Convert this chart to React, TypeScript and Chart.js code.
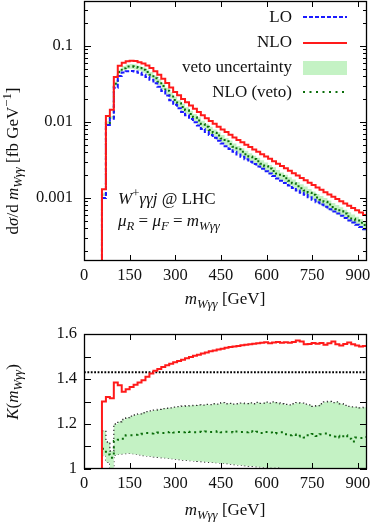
import React, { useEffect, useRef } from "react";
import { Chart, registerables } from "chart.js";
Chart.register(...registerables);

// ---------- data ----------
const BIN_EDGES = [59, 72, 85, 98, 111, 124, 137, 150, 163, 176, 189, 202, 215, 228, 241, 254, 267, 280, 293, 306,
  319, 332, 345, 358, 371, 384, 397, 410, 423, 436, 449, 462, 475, 488, 501, 514, 527, 540, 553, 566,
  579, 592, 605, 618, 631, 644, 657, 670, 683, 696, 709, 722, 735, 748, 761, 774, 787, 800, 813, 826,
  839, 852, 865, 878, 891, 904, 917, 930];

const LO = [0.001, 0.0091, 0.011, 0.0282, 0.0401, 0.0447, 0.0465, 0.0469, 0.046, 0.0442,
  0.0419, 0.0391, 0.036, 0.0324, 0.029, 0.0255, 0.0222, 0.0193, 0.0168, 0.0151,
  0.01353, 0.0122, 0.01095, 0.00991, 0.00895, 0.00806, 0.00738, 0.00674, 0.00618, 0.00566,
  0.0052, 0.00478, 0.0044, 0.00405, 0.00374, 0.00348, 0.00323, 0.003, 0.00279, 0.0026,
  0.00242, 0.00225, 0.0021, 0.00195, 0.0018, 0.00168, 0.00157, 0.00146, 0.00135, 0.00125,
  0.00117, 0.0011, 0.00102, 0.00095, 0.00088, 0.00082, 0.000767, 0.000712, 0.000664, 0.000624,
  0.000584, 0.000544, 0.000506, 0.000475, 0.000444, 0.000415, 0.000386];

const NLO = [0.0013, 0.012, 0.0145, 0.039, 0.055, 0.06, 0.063, 0.064, 0.0633, 0.0612,
  0.0585, 0.0552, 0.0513, 0.0465, 0.0419, 0.037, 0.0325, 0.0284, 0.0248, 0.0224,
  0.0201, 0.0182, 0.0164, 0.0149, 0.0135, 0.0122, 0.0112, 0.01026, 0.00944, 0.00867,
  0.00798, 0.00736, 0.00678, 0.00625, 0.00579, 0.0054, 0.00502, 0.00467, 0.00435, 0.00405,
  0.00377, 0.00352, 0.00327, 0.00304, 0.00282, 0.00263, 0.00245, 0.00228, 0.00211, 0.00197,
  0.00183, 0.00171, 0.00158, 0.00148, 0.00137, 0.00128, 0.00119, 0.00111, 0.00104, 0.00097,
  0.000904, 0.000847, 0.000791, 0.000738, 0.000687, 0.000641, 0.000597];

const NLO_VETO = [0.00109, 0.00969, 0.01155, 0.0317, 0.0453, 0.0507, 0.0535, 0.0539, 0.053, 0.0511,
  0.0485, 0.0454, 0.0417, 0.0376, 0.0337, 0.0296, 0.0258, 0.0225, 0.0195, 0.0176,
  0.01574, 0.01423, 0.01276, 0.01153, 0.01044, 0.00939, 0.00861, 0.00785, 0.00721, 0.00661,
  0.00605, 0.00557, 0.00513, 0.00471, 0.00436, 0.00405, 0.00376, 0.0035, 0.00325, 0.00303,
  0.00281, 0.00262, 0.00244, 0.00226, 0.00209, 0.00195, 0.00181, 0.00168, 0.00156, 0.00143,
  0.00134, 0.00125, 0.00117, 0.0011, 0.00101, 0.000947, 0.000888, 0.000819, 0.00076, 0.000716,
  0.000666, 0.000626, 0.000574, 0.000533, 0.000506, 0.000472, 0.000441];

const K_NLO = [1.3, 1.32, 1.315, 1.385, 1.372, 1.343, 1.355, 1.365, 1.375, 1.385,
  1.395, 1.41, 1.425, 1.437, 1.445, 1.453, 1.461, 1.468, 1.474, 1.48,
  1.486, 1.492, 1.498, 1.503, 1.508, 1.513, 1.518, 1.523, 1.527, 1.531,
  1.535, 1.539, 1.542, 1.545, 1.547, 1.55, 1.552, 1.555, 1.557, 1.559,
  1.561, 1.563, 1.559, 1.562, 1.565, 1.561, 1.563, 1.561, 1.565, 1.571,
  1.567, 1.555, 1.556, 1.56, 1.557, 1.56, 1.552, 1.559, 1.567, 1.554,
  1.549, 1.556, 1.562, 1.555, 1.549, 1.544, 1.547];

const K_VETO = [1.09, 1.065, 1.05, 1.125, 1.13, 1.135, 1.15, 1.15, 1.152, 1.155,
  1.157, 1.16, 1.158, 1.16, 1.162, 1.16, 1.163, 1.165, 1.162, 1.165,
  1.163, 1.166, 1.165, 1.163, 1.166, 1.165, 1.167, 1.164, 1.166, 1.168,
  1.163, 1.166, 1.165, 1.162, 1.167, 1.165, 1.163, 1.168, 1.164, 1.166,
  1.16, 1.165, 1.162, 1.158, 1.16, 1.163, 1.155, 1.15, 1.153, 1.145,
  1.148, 1.14, 1.15, 1.156, 1.147, 1.155, 1.158, 1.15, 1.145, 1.148,
  1.14, 1.15, 1.135, 1.122, 1.14, 1.138, 1.142];

const K_VETO_HI = [1.17, 1.12, 1.08, 1.2, 1.21, 1.22, 1.228, 1.235, 1.24, 1.245,
  1.25, 1.255, 1.258, 1.262, 1.265, 1.268, 1.27, 1.272, 1.275, 1.277,
  1.279, 1.28, 1.282, 1.283, 1.285, 1.284, 1.287, 1.286, 1.29, 1.288,
  1.295, 1.29, 1.292, 1.288, 1.29, 1.293, 1.291, 1.294, 1.29, 1.296,
  1.292, 1.297, 1.293, 1.298, 1.295, 1.29, 1.287, 1.285, 1.29, 1.295,
  1.293, 1.288, 1.285, 1.278, 1.282, 1.29, 1.298, 1.3, 1.295, 1.298,
  1.29, 1.283, 1.278, 1.276, 1.275, 1.272, 1.274];

const K_VETO_LO = [1.06, 1.03, 1.0, 1.062, 1.066, 1.068, 1.07, 1.068, 1.066, 1.063,
  1.06, 1.058, 1.056, 1.054, 1.052, 1.05, 1.048, 1.046, 1.044, 1.042,
  1.04, 1.039, 1.037, 1.036, 1.034, 1.033, 1.031, 1.03, 1.028, 1.027,
  1.026, 1.024, 1.022, 1.02, 1.018, 1.017, 1.015, 1.013, 1.012, 1.01,
  1.008, 1.007, 1.006, 1.006, 1.007, 1.005, 1.004, 1.003, 1.002, 1.0,
  0.998, 0.996, 0.995, 0.993, 0.99, 0.988, 0.986, 0.985, 0.983, 0.98,
  0.978, 0.976, 0.975, 0.973, 0.97, 0.968, 0.966];

const K_TOTAL = 1.43;

const X_TICKS = [0, 150, 300, 450, 600, 750, 900];
const Y_TICKS_TOP = [0.001, 0.01, 0.1];
const Y_TICKS_BOTTOM = [1, 1.1, 1.2, 1.3, 1.4, 1.5, 1.6];
const LEGEND_LABELS = ["LO", "NLO", "veto uncertainty", "NLO (veto)"];

// ---------- styles ----------
const FONT = '"Liberation Serif", "DejaVu Serif", serif';
const TXT = "#111";
const RED = "#ff1a1a";
const BLUE = "#1a1aff";
const GREEN = "#0b6e0b";
const BAND = "rgba(196,242,196,1)";
const X_MIN = 0;
const X_MAX = 930;
const TICK_SIZE = 16.5;
const TEXT_SIZE = 17;

Chart.defaults.font.family = FONT;

type Part = { t: string; it?: boolean; sub?: boolean; sup?: boolean };

function partFont(p: Part, size: number) {
  const s = p.sub || p.sup ? size * 0.75 : size;
  return `${p.it ? "italic " : ""}${s}px ${FONT}`;
}

function drawRich(ctx: CanvasRenderingContext2D, parts: Part[], x: number, y: number, size: number, align: string) {
  ctx.save();
  ctx.textBaseline = "alphabetic";
  ctx.textAlign = "left";
  ctx.fillStyle = TXT;
  let w = 0;
  for (const p of parts) {
    ctx.font = partFont(p, size);
    w += ctx.measureText(p.t).width;
  }
  let cx = align === "center" ? x - w / 2 : align === "right" ? x - w : x;
  for (const p of parts) {
    ctx.font = partFont(p, size);
    const dy = p.sub ? size * 0.22 : p.sup ? -size * 0.4 : 0;
    ctx.fillText(p.t, cx, y + dy);
    cx += ctx.measureText(p.t).width;
  }
  ctx.restore();
}

function hist(vals: number[], lead?: number) {
  const pts: { x: number; y: number }[] = [];
  if (lead !== undefined) pts.push({ x: BIN_EDGES[0], y: lead });
  vals.forEach((v, i) => pts.push({ x: BIN_EDGES[i], y: v }));
  pts.push({ x: BIN_EDGES[vals.length], y: vals[vals.length - 1] });
  return pts;
}

function logMinor(min: number, max: number) {
  const out: number[] = [];
  for (let e = -5; e <= 1; e++) {
    for (let m = 2; m <= 9; m++) {
      const v = m * Math.pow(10, e);
      if (v > min && v < max) out.push(v);
    }
  }
  return out;
}

function drawFrame(chart: any, yMajor: number[], yMinor: number[]) {
  const { ctx, chartArea: a, scales } = chart;
  ctx.save();
  ctx.strokeStyle = "#000";
  ctx.lineWidth = 1;
  ctx.beginPath();
  for (const v of X_TICKS) {
    const px = Math.round(scales.x.getPixelForValue(v)) + 0.5;
    ctx.moveTo(px, a.bottom);
    ctx.lineTo(px, a.bottom - 6);
    ctx.moveTo(px, a.top);
    ctx.lineTo(px, a.top + 6);
  }
  for (const v of yMajor) {
    const py = Math.round(scales.y.getPixelForValue(v)) + 0.5;
    ctx.moveTo(a.left, py);
    ctx.lineTo(a.left + 7, py);
    ctx.moveTo(a.right, py);
    ctx.lineTo(a.right - 7, py);
  }
  for (const v of yMinor) {
    const py = Math.round(scales.y.getPixelForValue(v)) + 0.5;
    ctx.moveTo(a.left, py);
    ctx.lineTo(a.left + 4, py);
    ctx.moveTo(a.right, py);
    ctx.lineTo(a.right - 4, py);
  }
  ctx.stroke();
  ctx.lineWidth = 1.3;
  ctx.strokeRect(a.left + 0.5, a.top + 0.5, a.right - a.left - 1, a.bottom - a.top - 1);
  ctx.restore();
}

const M_W: Part[] = [{ t: "m", it: true }, { t: "Wγγ", it: true, sub: true }];

const topPlugin = {
  id: "topDecor",
  afterDraw(chart: any) {
    const ctx: CanvasRenderingContext2D = chart.ctx;
    drawFrame(chart, Y_TICKS_TOP, logMinor(1.48e-4, 0.39));
    // x title
    drawRich(ctx, [...M_W, { t: " [GeV]" }], 225, 304, TEXT_SIZE, "center");
    // y title
    ctx.save();
    ctx.translate(18, 161);
    ctx.rotate(-Math.PI / 2);
    drawRich(ctx, [{ t: "d" }, { t: "σ", it: true }, { t: "/d " }, ...M_W, { t: " [fb GeV" }, { t: "−1", sup: true }, { t: "]" }], 0, 0, TEXT_SIZE, "center");
    ctx.restore();
    // annotations
    drawRich(ctx, [{ t: "W", it: true }, { t: "+", sup: true }, { t: "γγj", it: true }, { t: " @ LHC" }], 118, 204, TEXT_SIZE, "left");
    drawRich(ctx, [{ t: "μ", it: true }, { t: "R", it: true, sub: true }, { t: " = " }, { t: "μ", it: true }, { t: "F", it: true, sub: true }, { t: " = " }, ...M_W], 118, 226, TEXT_SIZE, "left");
    // legend
    const tx = 292;
    const sx0 = 303;
    const sx1 = 347;
    const rows = [22, 47, 72, 96.5];
    ctx.save();
    ctx.font = `${TEXT_SIZE}px ${FONT}`;
    ctx.fillStyle = TXT;
    ctx.textAlign = "right";
    ctx.textBaseline = "alphabetic";
    LEGEND_LABELS.forEach((l, i) => ctx.fillText(l, tx, rows[i]));
    ctx.lineWidth = 2;
    ctx.strokeStyle = BLUE;
    ctx.setLineDash([4, 2]);
    ctx.beginPath(); ctx.moveTo(sx0, 17); ctx.lineTo(sx1, 17); ctx.stroke();
    ctx.strokeStyle = RED;
    ctx.setLineDash([]);
    ctx.beginPath(); ctx.moveTo(sx0, 43); ctx.lineTo(sx1, 43); ctx.stroke();
    ctx.fillStyle = BAND;
    ctx.fillRect(sx0, 61, sx1 - sx0, 14);
    ctx.strokeStyle = GREEN;
    ctx.setLineDash([2, 4.5]);
    ctx.beginPath(); ctx.moveTo(sx0, 92); ctx.lineTo(sx1, 92); ctx.stroke();
    ctx.restore();
  },
};

const bottomPlugin = {
  id: "bottomDecor",
  afterDraw(chart: any) {
    const ctx: CanvasRenderingContext2D = chart.ctx;
    drawFrame(chart, Y_TICKS_BOTTOM, []);
    drawRich(ctx, [...M_W, { t: " [GeV]" }], 225, 195, TEXT_SIZE, "center");
    ctx.save();
    ctx.translate(18, 72);
    ctx.rotate(-Math.PI / 2);
    drawRich(ctx, [{ t: "K", it: true }, { t: "(" }, ...M_W, { t: ")" }], 0, 0, TEXT_SIZE, "center");
    ctx.restore();
  },
};

const lineBase = { pointRadius: 0, pointHoverRadius: 0, stepped: "before" as const, tension: 0, fill: false as any };

function noPad(s: any) {
  s.paddingTop = 0;
  s.paddingBottom = 0;
  s.paddingLeft = 0;
  s.paddingRight = 0;
}

function xScale(height: number) {
  return {
    type: "linear" as const,
    min: X_MIN,
    max: X_MAX,
    bounds: "data" as const,
    grid: { display: false, drawTicks: false },
    border: { display: false },
    afterBuildTicks: (s: any) => { s.ticks = X_TICKS.map((v) => ({ value: v })); },
    afterFit: (s: any) => { s.height = height; noPad(s); },
    ticks: { font: { family: FONT, size: TICK_SIZE }, color: TXT, padding: 5, maxRotation: 0, autoSkip: false, callback: (v: any) => String(v) },
  };
}

export default function App() {
  const topRef = useRef<HTMLCanvasElement>(null);
  const botRef = useRef<HTMLCanvasElement>(null);

  useEffect(() => {
    const common = {
      responsive: false,
      animation: false as const,
      devicePixelRatio: 1,
      events: [] as any,
      plugins: { legend: { display: false }, tooltip: { enabled: false } },
    };
    const c1 = new Chart(topRef.current!, {
      type: "line",
      data: {
        datasets: [
          { ...lineBase, data: hist(LO.map((v, i) => v * K_VETO_LO[i])), borderColor: "rgba(0,0,0,0)", borderWidth: 1, order: 10 },
          { ...lineBase, data: hist(LO.map((v, i) => v * K_VETO_HI[i])), borderColor: "rgba(0,0,0,0)", borderWidth: 1, fill: "-1", backgroundColor: BAND, order: 9 },
          { ...lineBase, data: hist(NLO_VETO, 1e-6), borderColor: GREEN, borderWidth: 2, borderDash: [2, 3], order: 3 },
          { ...lineBase, data: hist(LO, 1e-6), borderColor: BLUE, borderWidth: 2, borderDash: [4, 2], order: 2 },
          { ...lineBase, data: hist(NLO, 1e-6), borderColor: RED, borderWidth: 2, order: 1 },
        ] as any,
      },
      options: {
        ...common,
        layout: { padding: { top: 1, right: 7, left: 0, bottom: 0 } },
        scales: {
          x: xScale(59),
          y: {
            type: "logarithmic",
            min: 1.48e-4,
            max: 0.39,
            bounds: "data",
            grid: { display: false, drawTicks: false },
            border: { display: false },
            afterBuildTicks: (s: any) => { s.ticks = Y_TICKS_TOP.map((v) => ({ value: v })); },
            afterFit: (s: any) => { s.width = 84; noPad(s); },
            ticks: { font: { family: FONT, size: TICK_SIZE }, color: TXT, padding: 11, callback: (v: any) => String(v) },
          },
        } as any,
      },
      plugins: [topPlugin],
    });

    const c2 = new Chart(botRef.current!, {
      type: "line",
      data: {
        datasets: [
          { ...lineBase, data: hist(K_VETO_LO), borderColor: "#333", borderWidth: 1.3, borderDash: [1.3, 2.7], order: 10 },
          { ...lineBase, data: hist(K_VETO_HI), borderColor: "#333", borderWidth: 1.3, borderDash: [1.3, 2.7], fill: "-1", backgroundColor: BAND, order: 9 },
          { ...lineBase, data: hist(K_VETO), borderColor: GREEN, borderWidth: 2, borderDash: [2, 4], order: 3 },
          { ...lineBase, stepped: false, data: [{ x: X_MIN, y: K_TOTAL }, { x: X_MAX, y: K_TOTAL }], borderColor: "#000", borderWidth: 1.8, borderDash: [1.8, 1.6], order: 2 },
          { ...lineBase, data: hist(K_NLO, 0.9), borderColor: RED, borderWidth: 2, order: 1 },
        ] as any,
      },
      options: {
        ...common,
        layout: { padding: { top: 14, right: 7, left: 0, bottom: 0 } },
        scales: {
          x: xScale(54),
          y: {
            type: "linear",
            min: 1,
            max: 1.6,
            bounds: "data",
            grid: { display: false, drawTicks: false },
            border: { display: false },
            afterBuildTicks: (s: any) => { s.ticks = Y_TICKS_BOTTOM.map((v) => ({ value: v })); },
            afterFit: (s: any) => { s.width = 84; noPad(s); },
            ticks: { font: { family: FONT, size: TICK_SIZE }, color: TXT, padding: 7, callback: (v: any) => String(Math.round(v * 10) / 10) },
          },
        } as any,
      },
      plugins: [bottomPlugin],
    });

    return () => {
      c1.destroy();
      c2.destroy();
    };
  }, []);

  return (
    <div style={{ position: "absolute", left: 0, top: 0, width: 374, height: 523, background: "#fff" }}>
      <canvas ref={topRef} width={374} height={320} style={{ position: "absolute", left: 0, top: 0, width: 374, height: 320 }} />
      <canvas ref={botRef} width={374} height={203} style={{ position: "absolute", left: 0, top: 320, width: 374, height: 203 }} />
    </div>
  );
}
